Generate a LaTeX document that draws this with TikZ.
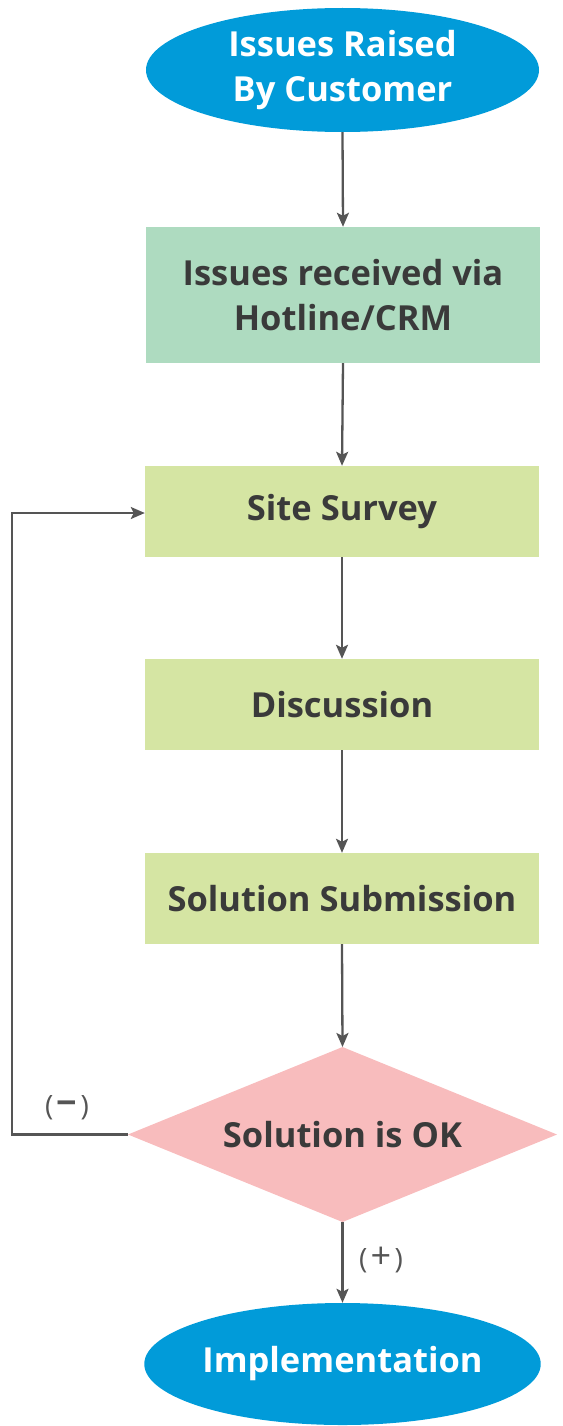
\documentclass[tikz,border=0pt]{standalone}
\usepackage{fontspec}
\setmainfont{Open Sans}
\usetikzlibrary{shapes.geometric,arrows.meta}
\definecolor{bluefill}{HTML}{019BD9}
\definecolor{mintfill}{HTML}{AEDBC0}
\definecolor{limefill}{HTML}{D5E5A3}
\definecolor{pinkfill}{HTML}{F8BCBD}
\definecolor{linecol}{HTML}{555555}
\definecolor{textcol}{HTML}{3A3A3A}
\newcommand{\bigsign}[1]{{\fontsize{36}{30}\selectfont #1}}
\begin{document}
\begin{tikzpicture}[x=1pt,y=-1pt,
  bigfont/.style={font=\fontsize{34.5}{45}\selectfont\bfseries},
  term/.style={ellipse,fill=bluefill,minimum width=393pt,minimum height=124pt,inner sep=0pt,
    text=white,bigfont,align=center},
  stepbox/.style={rectangle,minimum width=394pt,inner sep=0pt,
    text=textcol,bigfont,align=center},
  conn/.style={draw=linecol,line width=2.3pt,-{Stealth[length=14pt,width=12pt,inset=3pt]}},
  lab/.style={text=linecol,font=\fontsize{28}{30}\selectfont}
]
\useasboundingbox (0,0) rectangle (562,1426);
\node[term] (start) at (342.5,70) {Issues Raised\\By Customer};
\node[stepbox,fill=mintfill,minimum height=136pt] (recv) at (343,295) {Issues received via\\Hotline/CRM};
\node[stepbox,fill=limefill,minimum height=91pt] (survey) at (342,511.5) {Site Survey};
\node[stepbox,fill=limefill,minimum height=91pt] (disc) at (342,704.5) {Discussion};
\node[stepbox,fill=limefill,minimum height=91pt] (sol) at (342,898.5) {Solution Submission};
\fill[pinkfill] (128,1134.5) -- (342.5,1047) -- (557,1134.5) -- (342.5,1222) -- cycle;
\node[text=textcol,bigfont] (oktext) at (342.5,1134.5) {Solution is OK};
\coordinate (okW) at (128,1134.5);
\coordinate (okS) at (342.5,1222);
\coordinate (okN) at (342.5,1047);
\node[term,minimum height=122pt] (impl) at (342.5,1364) {Implementation};
\coordinate (c1) at (12,1134.5);
\coordinate (c2) at (12,513);
\draw[conn] (start.south) -- (recv.north);
\draw[conn] (recv.south) -- (survey.north);
\draw[conn] (survey.south) -- (disc.north);
\draw[conn] (disc.south) -- (sol.north);
\draw[conn] (sol.south) -- (okN);
\draw[conn] (okS) -- (impl.north);
\draw[conn] (okW) -- (c1) -- (c2) -- (survey.west |- c2);
\node[lab] (minus) at (67,1108) {(\hspace{0.12em}\bigsign{\textbf{−}}\hspace{0.12em})};
\node[lab] (plus) at (381,1260) {(\hspace{0.12em}\bigsign{+}\hspace{0.12em})};
\end{tikzpicture}
\end{document}
